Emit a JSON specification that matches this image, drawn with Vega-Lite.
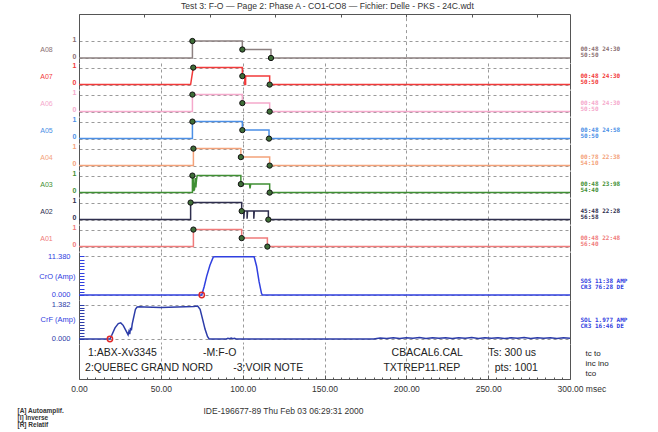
{
"$schema": "https://vega.github.io/schema/vega-lite/v6.json",
"background": "white",
"padding": {"left": 17, "top": 1, "right": 5, "bottom": 5},
"title": {"text": "Test 3: F-O — Page 2: Phase A - CO1-CO8 — Fichier: Delle - PKS - 24C.wdt", "fontSize": 8.6, "fontWeight": "normal", "color": "#333333", "anchor": "middle", "offset": 3, "font": "Liberation Sans"},
"spacing": 0,
"bounds": "flush",
"resolve": {"scale": {"x": "independent", "y": "independent"}},
"config": {"font": "Liberation Sans", "view": {"stroke": null}, "axis": {"labelFont": "Liberation Sans", "titleFont": "Liberation Sans"}},
"datasets": {
"dig": [
{"ch":"A08","i":0,"t":0,"v":0},{"ch":"A08","i":1,"t":69.3,"v":0},{"ch":"A08","i":2,"t":69.3,"v":1},{"ch":"A08","i":3,"t":99.8,"v":1},{"ch":"A08","i":4,"t":99.8,"v":0.5},{"ch":"A08","i":5,"t":117.3,"v":0.5},{"ch":"A08","i":6,"t":117.3,"v":0},{"ch":"A08","i":7,"t":300,"v":0},
{"ch":"A07","i":0,"t":0,"v":0},{"ch":"A07","i":1,"t":68.2,"v":0},{"ch":"A07","i":2,"t":69.8,"v":1},{"ch":"A07","i":3,"t":99.8,"v":1},{"ch":"A07","i":4,"t":99.8,"v":0.5},{"ch":"A07","i":5,"t":101.3,"v":0.5},{"ch":"A07","i":6,"t":101.3,"v":0},{"ch":"A07","i":7,"t":101.8,"v":0},{"ch":"A07","i":8,"t":101.8,"v":0.5},{"ch":"A07","i":9,"t":116.5,"v":0.5},{"ch":"A07","i":10,"t":116.5,"v":0},{"ch":"A07","i":11,"t":300,"v":0},
{"ch":"A06","i":0,"t":0,"v":0},{"ch":"A06","i":1,"t":69.3,"v":0},{"ch":"A06","i":2,"t":69.3,"v":1},{"ch":"A06","i":3,"t":99.8,"v":1},{"ch":"A06","i":4,"t":99.8,"v":0.5},{"ch":"A06","i":5,"t":116.5,"v":0.5},{"ch":"A06","i":6,"t":116.5,"v":0},{"ch":"A06","i":7,"t":300,"v":0},
{"ch":"A05","i":0,"t":0,"v":0},{"ch":"A05","i":1,"t":69.3,"v":0},{"ch":"A05","i":2,"t":69.3,"v":1},{"ch":"A05","i":3,"t":99.8,"v":1},{"ch":"A05","i":4,"t":99.8,"v":0.5},{"ch":"A05","i":5,"t":116.1,"v":0.5},{"ch":"A05","i":6,"t":116.1,"v":0},{"ch":"A05","i":7,"t":300,"v":0},
{"ch":"A04","i":0,"t":0,"v":0},{"ch":"A04","i":1,"t":69.9,"v":0},{"ch":"A04","i":2,"t":69.9,"v":1},{"ch":"A04","i":3,"t":98.9,"v":1},{"ch":"A04","i":4,"t":98.9,"v":0.5},{"ch":"A04","i":5,"t":116.5,"v":0.5},{"ch":"A04","i":6,"t":116.5,"v":0},{"ch":"A04","i":7,"t":300,"v":0},
{"ch":"A03","i":0,"t":0,"v":0},{"ch":"A03","i":1,"t":69.3,"v":0},{"ch":"A03","i":2,"t":69.3,"v":1},{"ch":"A03","i":3,"t":69.7,"v":0.9},{"ch":"A03","i":4,"t":70.1,"v":0.1},{"ch":"A03","i":5,"t":70.6,"v":0.2},{"ch":"A03","i":6,"t":71.0,"v":0.85},{"ch":"A03","i":7,"t":71.4,"v":0.3},{"ch":"A03","i":8,"t":71.8,"v":0.75},{"ch":"A03","i":9,"t":72.2,"v":1},{"ch":"A03","i":10,"t":98.9,"v":1},{"ch":"A03","i":11,"t":98.9,"v":0.5},{"ch":"A03","i":12,"t":104.2,"v":0.5},{"ch":"A03","i":13,"t":104.5,"v":0.25},{"ch":"A03","i":14,"t":104.9,"v":0.5},{"ch":"A03","i":15,"t":116.5,"v":0.5},{"ch":"A03","i":16,"t":116.5,"v":0},{"ch":"A03","i":17,"t":300,"v":0},
{"ch":"A02","i":0,"t":0,"v":0},{"ch":"A02","i":1,"t":68.2,"v":0},{"ch":"A02","i":2,"t":68.2,"v":1},{"ch":"A02","i":3,"t":99.4,"v":1},{"ch":"A02","i":4,"t":99.4,"v":0.5},{"ch":"A02","i":5,"t":100.7,"v":0.5},{"ch":"A02","i":6,"t":100.7,"v":0.05},{"ch":"A02","i":7,"t":101.0,"v":0.5},{"ch":"A02","i":8,"t":102.7,"v":0.5},{"ch":"A02","i":9,"t":102.7,"v":0.05},{"ch":"A02","i":10,"t":103.0,"v":0.5},{"ch":"A02","i":11,"t":106.8,"v":0.5},{"ch":"A02","i":12,"t":106.8,"v":0.05},{"ch":"A02","i":13,"t":107.1,"v":0.5},{"ch":"A02","i":14,"t":115.7,"v":0.5},{"ch":"A02","i":15,"t":115.7,"v":0},{"ch":"A02","i":16,"t":300,"v":0},
{"ch":"A01","i":0,"t":0,"v":0},{"ch":"A01","i":1,"t":69.9,"v":0},{"ch":"A01","i":2,"t":69.9,"v":1},{"ch":"A01","i":3,"t":99.4,"v":1},{"ch":"A01","i":4,"t":99.4,"v":0.5},{"ch":"A01","i":5,"t":115.1,"v":0.5},{"ch":"A01","i":6,"t":115.1,"v":0},{"ch":"A01","i":7,"t":300,"v":0}
],
"mk": [
{"ch":"A08","t":69.3,"v":1},{"ch":"A08","t":99.8,"v":0.5},{"ch":"A08","t":117.3,"v":0},
{"ch":"A07","t":69.8,"v":1},{"ch":"A07","t":99.8,"v":0.5},{"ch":"A07","t":116.5,"v":0},
{"ch":"A06","t":69.3,"v":1},{"ch":"A06","t":99.8,"v":0.5},{"ch":"A06","t":116.5,"v":0},
{"ch":"A05","t":69.3,"v":1},{"ch":"A05","t":99.8,"v":0.5},{"ch":"A05","t":116.1,"v":0},
{"ch":"A04","t":69.9,"v":1},{"ch":"A04","t":98.9,"v":0.5},{"ch":"A04","t":116.5,"v":0},
{"ch":"A03","t":69.3,"v":1},{"ch":"A03","t":98.9,"v":0.5},{"ch":"A03","t":116.5,"v":0},
{"ch":"A02","t":68.2,"v":1},{"ch":"A02","t":99.4,"v":0.5},{"ch":"A02","t":115.7,"v":0},
{"ch":"A01","t":69.9,"v":1},{"ch":"A01","t":99.4,"v":0.5},{"ch":"A01","t":115.1,"v":0}
],
"cro": [
{"i":0,"t":0,"v":0},{"i":1,"t":75,"v":0},{"i":2,"t":76.5,"v":2.5},{"i":3,"t":78,"v":5.5},{"i":4,"t":80,"v":8.8},{"i":5,"t":82,"v":11.2},{"i":6,"t":83,"v":11.3},{"i":7,"t":107,"v":11.3},{"i":8,"t":108.5,"v":8.5},{"i":9,"t":110,"v":4},{"i":10,"t":111.5,"v":0.5},{"i":11,"t":112,"v":0},{"i":12,"t":300,"v":0}
],
"crom": [{"t":75,"v":0}],
"crf": [
{"i":0,"t":0,"v":0},{"i":1,"t":18.9,"v":0},{"i":2,"t":20,"v":0.15},{"i":3,"t":22,"v":0.45},{"i":4,"t":24,"v":0.62},{"i":5,"t":25.5,"v":0.65},{"i":6,"t":27,"v":0.55},{"i":7,"t":29,"v":0.3},{"i":8,"t":30,"v":0.17},{"i":9,"t":30.5,"v":0.3},{"i":10,"t":31,"v":0.2},{"i":11,"t":31.5,"v":0.45},{"i":12,"t":32,"v":0.35},{"i":13,"t":32.5,"v":0.6},{"i":14,"t":33.5,"v":0.9},{"i":15,"t":34.5,"v":1.2},{"i":16,"t":35.5,"v":1.29},{"i":17,"t":37,"v":1.3},{"i":18,"t":40,"v":1.29},{"i":19,"t":45,"v":1.28},{"i":20,"t":50,"v":1.27},{"i":21,"t":55,"v":1.28},{"i":22,"t":60,"v":1.29},{"i":23,"t":65,"v":1.3},{"i":24,"t":70,"v":1.31},{"i":25,"t":72.5,"v":1.33},{"i":26,"t":74,"v":1.2},{"i":27,"t":75.5,"v":0.8},{"i":28,"t":77,"v":0.4},{"i":29,"t":78.5,"v":0.1},{"i":30,"t":79.5,"v":0},{"i":31,"t":90,"v":0},{"i":32,"t":91,"v":0.03},{"i":33,"t":92,"v":0.01},{"i":34,"t":93,"v":0.04},{"i":35,"t":94,"v":0.01},{"i":36,"t":95,"v":0.03},{"i":37,"t":96,"v":0},{"i":38,"t":180,"v":0},
{"i":39,"t":184,"v":0.04},{"i":40,"t":188,"v":0.02},{"i":41,"t":192,"v":0.05},{"i":42,"t":196,"v":0.02},{"i":43,"t":200,"v":0.05},{"i":44,"t":204,"v":0.03},{"i":45,"t":208,"v":0.06},{"i":46,"t":212,"v":0.02},{"i":47,"t":216,"v":0.05},{"i":48,"t":220,"v":0.03},{"i":49,"t":224,"v":0.05},{"i":50,"t":228,"v":0.02},{"i":51,"t":232,"v":0.05},{"i":52,"t":236,"v":0.03},{"i":53,"t":240,"v":0.06},{"i":54,"t":244,"v":0.02},{"i":55,"t":248,"v":0.05},{"i":56,"t":252,"v":0.03},{"i":57,"t":256,"v":0.05},{"i":58,"t":260,"v":0.02},{"i":59,"t":264,"v":0.05},{"i":60,"t":268,"v":0.03},{"i":61,"t":272,"v":0.06},{"i":62,"t":276,"v":0.02},{"i":63,"t":280,"v":0.05},{"i":64,"t":284,"v":0.03},{"i":65,"t":288,"v":0.05},{"i":66,"t":292,"v":0.02},{"i":67,"t":296,"v":0.05},{"i":68,"t":300,"v":0.03}
],
"crfm": [{"t":18.9,"v":0}],
"txtl": [
{"t":5.5,"line":1,"label":"1:ABX-Xv3345"},{"t":75.8,"line":1,"label":"-M:F-O"},{"t":3.7,"line":2,"label":"2:QUEBEC GRAND NORD"},{"t":94.2,"line":2,"label":"-3:VOIR NOTE"}
],
"txtr": [
{"t":191,"line":1,"label":"CBACAL6.CAL"},{"t":186,"line":2,"label":"TXTREP11.REP"},{"t":250,"line":1,"label":"Ts: 300 us"},{"t":254,"line":2,"label":"pts: 1001"}
]
},
"vconcat": [
{"width": 491, "height": 48.6, "resolve": {"axis": {"y": "independent"}},
 "layer": [
  {"data": {"name": "dig"}, "transform": [{"filter": "datum.ch == 'A08'"}],
   "mark": {"type": "line", "color": "#8c8080", "strokeWidth": 1.5, "clip": true},
   "encoding": {
    "x": {"field": "t", "type": "quantitative", "scale": {"domain": [0, 300], "nice": false, "zero": false},
      "axis": {"orient": "top", "values": [0,5,10,15,20,25,30,35,40,45,50,55,60,65,70,75,80,85,90,95,100,105,110,115,120,125,130,135,140,145,150,155,160,165,170,175,180,185,190,195,200,205,210,215,220,225,230,235,240,245,250,255,260,265,270,275,280,285,290,295,300], "domain": true, "domainColor": "#555555", "ticks": true, "tickSize": -3, "tickColor": "#555555", "labels": false, "grid": true, "gridDash": [3, 3], "gridColor": "#9a9a9a", "gridOpacity": {"condition": {"test": "datum.value % 50 == 0 && datum.value > 0 && datum.value < 300", "value": 1}, "value": 0}, "title": null}},
    "y": {"field": "v", "type": "quantitative", "scale": {"domain": [-0.27, 2.59], "nice": false, "zero": false},
      "axis": {"orient": "left", "values": [0, 1], "format": "d", "grid": true, "gridDash": [3, 3], "gridColor": "#9a9a9a", "ticks": false, "domain": true, "domainColor": "#555555", "labelColor": "#8b6f72", "labelFontSize": 7, "labelFontWeight": "bold", "labelPadding": 3, "labelBaseline": "alphabetic", "labelFlush": false, "title": "A08", "titleAngle": 0, "titleAlign": "center", "titleBaseline": "middle", "titleX": -33, "titleY": 35.5, "titleColor": "#8b6f72", "titleFontSize": 7, "titleFontWeight": "normal"}},
    "order": {"field": "i"}}},
  {"data": {"name": "mk"}, "transform": [{"filter": "datum.ch == 'A08'"}],
   "mark": {"type": "circle", "size": 28, "fill": "#3f6e38", "stroke": "#111111", "strokeWidth": 1, "opacity": 1},
   "encoding": {
    "x": {"field": "t", "type": "quantitative"},
    "y": {"field": "v", "type": "quantitative",
      "axis": {"orient": "right", "domain": true, "domainColor": "#555555", "ticks": false, "labels": false, "grid": false, "title": ["00:48    24:30", "50:50"], "titleAngle": 0, "titleAlign": "left", "titleBaseline": "middle", "titleX": 10, "titleY": 34, "titleFont": "DejaVu Sans Mono", "titleFontSize": 6, "titleFontWeight": "bold", "titleColor": "#8b6f72", "titleLineHeight": 6.5}}}}
 ]},
{"width": 491, "height": 26.2, "resolve": {"axis": {"y": "independent"}},
 "layer": [
  {"data": {"name": "dig"}, "transform": [{"filter": "datum.ch == 'A07'"}],
   "mark": {"type": "line", "color": "#f23a3a", "strokeWidth": 1.5, "clip": true},
   "encoding": {
    "x": {"field": "t", "type": "quantitative", "scale": {"domain": [0, 300], "nice": false, "zero": false},
      "axis": {"orient": "bottom", "values": [50, 100, 150, 200, 250], "domain": false, "ticks": false, "labels": false, "grid": true, "gridDash": [3, 3], "gridColor": "#9a9a9a", "title": null}},
    "y": {"field": "v", "type": "quantitative", "scale": {"domain": [-0.27, 1.27], "nice": false, "zero": false},
      "axis": {"orient": "left", "values": [0, 1], "format": "d", "grid": true, "gridDash": [3, 3], "gridColor": "#9a9a9a", "ticks": false, "domain": true, "domainColor": "#555555", "labelColor": "#f23a3a", "labelFontSize": 7, "labelFontWeight": "bold", "labelPadding": 3, "labelBaseline": "alphabetic", "labelFlush": false, "title": "A07", "titleAngle": 0, "titleAlign": "center", "titleBaseline": "middle", "titleX": -33, "titleY": 13.1, "titleColor": "#f23a3a", "titleFontSize": 7, "titleFontWeight": "normal"}},
    "order": {"field": "i"}}},
  {"data": {"name": "mk"}, "transform": [{"filter": "datum.ch == 'A07'"}],
   "mark": {"type": "circle", "size": 28, "fill": "#3f6e38", "stroke": "#111111", "strokeWidth": 1, "opacity": 1},
   "encoding": {
    "x": {"field": "t", "type": "quantitative"},
    "y": {"field": "v", "type": "quantitative",
      "axis": {"orient": "right", "domain": true, "domainColor": "#555555", "ticks": false, "labels": false, "grid": false, "title": ["00:48    24:30", "50:50"], "titleAngle": 0, "titleAlign": "left", "titleBaseline": "middle", "titleX": 10, "titleY": 12, "titleFont": "DejaVu Sans Mono", "titleFontSize": 6, "titleFontWeight": "bold", "titleColor": "#f23a3a", "titleLineHeight": 6.5}}}}
 ]},
{"width": 491, "height": 26.2, "resolve": {"axis": {"y": "independent"}},
 "layer": [
  {"data": {"name": "dig"}, "transform": [{"filter": "datum.ch == 'A06'"}],
   "mark": {"type": "line", "color": "#f5a9cc", "strokeWidth": 1.5, "clip": true},
   "encoding": {
    "x": {"field": "t", "type": "quantitative", "scale": {"domain": [0, 300], "nice": false, "zero": false},
      "axis": {"orient": "bottom", "values": [50, 100, 150, 200, 250], "domain": false, "ticks": false, "labels": false, "grid": true, "gridDash": [3, 3], "gridColor": "#9a9a9a", "title": null}},
    "y": {"field": "v", "type": "quantitative", "scale": {"domain": [-0.27, 1.27], "nice": false, "zero": false},
      "axis": {"orient": "left", "values": [0, 1], "format": "d", "grid": true, "gridDash": [3, 3], "gridColor": "#9a9a9a", "ticks": false, "domain": true, "domainColor": "#555555", "labelColor": "#f5a9cc", "labelFontSize": 7, "labelFontWeight": "bold", "labelPadding": 3, "labelBaseline": "alphabetic", "labelFlush": false, "title": "A06", "titleAngle": 0, "titleAlign": "center", "titleBaseline": "middle", "titleX": -33, "titleY": 13.1, "titleColor": "#f5a9cc", "titleFontSize": 7, "titleFontWeight": "normal"}},
    "order": {"field": "i"}}},
  {"data": {"name": "mk"}, "transform": [{"filter": "datum.ch == 'A06'"}],
   "mark": {"type": "circle", "size": 28, "fill": "#3f6e38", "stroke": "#111111", "strokeWidth": 1, "opacity": 1},
   "encoding": {
    "x": {"field": "t", "type": "quantitative"},
    "y": {"field": "v", "type": "quantitative",
      "axis": {"orient": "right", "domain": true, "domainColor": "#555555", "ticks": false, "labels": false, "grid": false, "title": ["00:48    24:30", "50:50"], "titleAngle": 0, "titleAlign": "left", "titleBaseline": "middle", "titleX": 10, "titleY": 12, "titleFont": "DejaVu Sans Mono", "titleFontSize": 6, "titleFontWeight": "bold", "titleColor": "#f5a9cc", "titleLineHeight": 6.5}}}}
 ]},
{"width": 491, "height": 26.2, "resolve": {"axis": {"y": "independent"}},
 "layer": [
  {"data": {"name": "dig"}, "transform": [{"filter": "datum.ch == 'A05'"}],
   "mark": {"type": "line", "color": "#4b8fe6", "strokeWidth": 1.5, "clip": true},
   "encoding": {
    "x": {"field": "t", "type": "quantitative", "scale": {"domain": [0, 300], "nice": false, "zero": false},
      "axis": {"orient": "bottom", "values": [50, 100, 150, 200, 250], "domain": false, "ticks": false, "labels": false, "grid": true, "gridDash": [3, 3], "gridColor": "#9a9a9a", "title": null}},
    "y": {"field": "v", "type": "quantitative", "scale": {"domain": [-0.27, 1.27], "nice": false, "zero": false},
      "axis": {"orient": "left", "values": [0, 1], "format": "d", "grid": true, "gridDash": [3, 3], "gridColor": "#9a9a9a", "ticks": false, "domain": true, "domainColor": "#555555", "labelColor": "#4b8fe6", "labelFontSize": 7, "labelFontWeight": "bold", "labelPadding": 3, "labelBaseline": "alphabetic", "labelFlush": false, "title": "A05", "titleAngle": 0, "titleAlign": "center", "titleBaseline": "middle", "titleX": -33, "titleY": 13.1, "titleColor": "#4b8fe6", "titleFontSize": 7, "titleFontWeight": "normal"}},
    "order": {"field": "i"}}},
  {"data": {"name": "mk"}, "transform": [{"filter": "datum.ch == 'A05'"}],
   "mark": {"type": "circle", "size": 28, "fill": "#3f6e38", "stroke": "#111111", "strokeWidth": 1, "opacity": 1},
   "encoding": {
    "x": {"field": "t", "type": "quantitative"},
    "y": {"field": "v", "type": "quantitative",
      "axis": {"orient": "right", "domain": true, "domainColor": "#555555", "ticks": false, "labels": false, "grid": false, "title": ["00:48    24:58", "50:50"], "titleAngle": 0, "titleAlign": "left", "titleBaseline": "middle", "titleX": 10, "titleY": 12, "titleFont": "DejaVu Sans Mono", "titleFontSize": 6, "titleFontWeight": "bold", "titleColor": "#4b8fe6", "titleLineHeight": 6.5}}}}
 ]},
{"width": 491, "height": 26.2, "resolve": {"axis": {"y": "independent"}},
 "layer": [
  {"data": {"name": "dig"}, "transform": [{"filter": "datum.ch == 'A04'"}],
   "mark": {"type": "line", "color": "#f4a27a", "strokeWidth": 1.5, "clip": true},
   "encoding": {
    "x": {"field": "t", "type": "quantitative", "scale": {"domain": [0, 300], "nice": false, "zero": false},
      "axis": {"orient": "bottom", "values": [50, 100, 150, 200, 250], "domain": false, "ticks": false, "labels": false, "grid": true, "gridDash": [3, 3], "gridColor": "#9a9a9a", "title": null}},
    "y": {"field": "v", "type": "quantitative", "scale": {"domain": [-0.27, 1.27], "nice": false, "zero": false},
      "axis": {"orient": "left", "values": [0, 1], "format": "d", "grid": true, "gridDash": [3, 3], "gridColor": "#9a9a9a", "ticks": false, "domain": true, "domainColor": "#555555", "labelColor": "#f4a27a", "labelFontSize": 7, "labelFontWeight": "bold", "labelPadding": 3, "labelBaseline": "alphabetic", "labelFlush": false, "title": "A04", "titleAngle": 0, "titleAlign": "center", "titleBaseline": "middle", "titleX": -33, "titleY": 13.1, "titleColor": "#f4a27a", "titleFontSize": 7, "titleFontWeight": "normal"}},
    "order": {"field": "i"}}},
  {"data": {"name": "mk"}, "transform": [{"filter": "datum.ch == 'A04'"}],
   "mark": {"type": "circle", "size": 28, "fill": "#3f6e38", "stroke": "#111111", "strokeWidth": 1, "opacity": 1},
   "encoding": {
    "x": {"field": "t", "type": "quantitative"},
    "y": {"field": "v", "type": "quantitative",
      "axis": {"orient": "right", "domain": true, "domainColor": "#555555", "ticks": false, "labels": false, "grid": false, "title": ["00:78    22:38", "54:10"], "titleAngle": 0, "titleAlign": "left", "titleBaseline": "middle", "titleX": 10, "titleY": 12, "titleFont": "DejaVu Sans Mono", "titleFontSize": 6, "titleFontWeight": "bold", "titleColor": "#f4a27a", "titleLineHeight": 6.5}}}}
 ]},
{"width": 491, "height": 26.2, "resolve": {"axis": {"y": "independent"}},
 "layer": [
  {"data": {"name": "dig"}, "transform": [{"filter": "datum.ch == 'A03'"}],
   "mark": {"type": "line", "color": "#3f8f33", "strokeWidth": 1.5, "clip": true},
   "encoding": {
    "x": {"field": "t", "type": "quantitative", "scale": {"domain": [0, 300], "nice": false, "zero": false},
      "axis": {"orient": "bottom", "values": [50, 100, 150, 200, 250], "domain": false, "ticks": false, "labels": false, "grid": true, "gridDash": [3, 3], "gridColor": "#9a9a9a", "title": null}},
    "y": {"field": "v", "type": "quantitative", "scale": {"domain": [-0.27, 1.27], "nice": false, "zero": false},
      "axis": {"orient": "left", "values": [0, 1], "format": "d", "grid": true, "gridDash": [3, 3], "gridColor": "#9a9a9a", "ticks": false, "domain": true, "domainColor": "#555555", "labelColor": "#3f8f33", "labelFontSize": 7, "labelFontWeight": "bold", "labelPadding": 3, "labelBaseline": "alphabetic", "labelFlush": false, "title": "A03", "titleAngle": 0, "titleAlign": "center", "titleBaseline": "middle", "titleX": -33, "titleY": 13.1, "titleColor": "#3f8f33", "titleFontSize": 7, "titleFontWeight": "normal"}},
    "order": {"field": "i"}}},
  {"data": {"name": "mk"}, "transform": [{"filter": "datum.ch == 'A03'"}],
   "mark": {"type": "circle", "size": 28, "fill": "#3f6e38", "stroke": "#111111", "strokeWidth": 1, "opacity": 1},
   "encoding": {
    "x": {"field": "t", "type": "quantitative"},
    "y": {"field": "v", "type": "quantitative",
      "axis": {"orient": "right", "domain": true, "domainColor": "#555555", "ticks": false, "labels": false, "grid": false, "title": ["00:48    23:98", "54:40"], "titleAngle": 0, "titleAlign": "left", "titleBaseline": "middle", "titleX": 10, "titleY": 12, "titleFont": "DejaVu Sans Mono", "titleFontSize": 6, "titleFontWeight": "bold", "titleColor": "#3f8f33", "titleLineHeight": 6.5}}}}
 ]},
{"width": 491, "height": 26.2, "resolve": {"axis": {"y": "independent"}},
 "layer": [
  {"data": {"name": "dig"}, "transform": [{"filter": "datum.ch == 'A02'"}],
   "mark": {"type": "line", "color": "#2e2e4e", "strokeWidth": 1.5, "clip": true},
   "encoding": {
    "x": {"field": "t", "type": "quantitative", "scale": {"domain": [0, 300], "nice": false, "zero": false},
      "axis": {"orient": "bottom", "values": [50, 100, 150, 200, 250], "domain": false, "ticks": false, "labels": false, "grid": true, "gridDash": [3, 3], "gridColor": "#9a9a9a", "title": null}},
    "y": {"field": "v", "type": "quantitative", "scale": {"domain": [-0.27, 1.27], "nice": false, "zero": false},
      "axis": {"orient": "left", "values": [0, 1], "format": "d", "grid": true, "gridDash": [3, 3], "gridColor": "#9a9a9a", "ticks": false, "domain": true, "domainColor": "#555555", "labelColor": "#2e2e4e", "labelFontSize": 7, "labelFontWeight": "bold", "labelPadding": 3, "labelBaseline": "alphabetic", "labelFlush": false, "title": "A02", "titleAngle": 0, "titleAlign": "center", "titleBaseline": "middle", "titleX": -33, "titleY": 13.1, "titleColor": "#2e2e4e", "titleFontSize": 7, "titleFontWeight": "normal"}},
    "order": {"field": "i"}}},
  {"data": {"name": "mk"}, "transform": [{"filter": "datum.ch == 'A02'"}],
   "mark": {"type": "circle", "size": 28, "fill": "#3f6e38", "stroke": "#111111", "strokeWidth": 1, "opacity": 1},
   "encoding": {
    "x": {"field": "t", "type": "quantitative"},
    "y": {"field": "v", "type": "quantitative",
      "axis": {"orient": "right", "domain": true, "domainColor": "#555555", "ticks": false, "labels": false, "grid": false, "title": ["45:48    22:28", "56:58"], "titleAngle": 0, "titleAlign": "left", "titleBaseline": "middle", "titleX": 10, "titleY": 12, "titleFont": "DejaVu Sans Mono", "titleFontSize": 6, "titleFontWeight": "bold", "titleColor": "#2e2e4e", "titleLineHeight": 6.5}}}}
 ]},
{"width": 491, "height": 26.2, "resolve": {"axis": {"y": "independent"}},
 "layer": [
  {"data": {"name": "dig"}, "transform": [{"filter": "datum.ch == 'A01'"}],
   "mark": {"type": "line", "color": "#f07b7b", "strokeWidth": 1.5, "clip": true},
   "encoding": {
    "x": {"field": "t", "type": "quantitative", "scale": {"domain": [0, 300], "nice": false, "zero": false},
      "axis": {"orient": "bottom", "values": [50, 100, 150, 200, 250], "domain": false, "ticks": false, "labels": false, "grid": true, "gridDash": [3, 3], "gridColor": "#9a9a9a", "title": null}},
    "y": {"field": "v", "type": "quantitative", "scale": {"domain": [-0.27, 1.27], "nice": false, "zero": false},
      "axis": {"orient": "left", "values": [0, 1], "format": "d", "grid": true, "gridDash": [3, 3], "gridColor": "#9a9a9a", "ticks": false, "domain": true, "domainColor": "#555555", "labelColor": "#f07b7b", "labelFontSize": 7, "labelFontWeight": "bold", "labelPadding": 3, "labelBaseline": "alphabetic", "labelFlush": false, "title": "A01", "titleAngle": 0, "titleAlign": "center", "titleBaseline": "middle", "titleX": -33, "titleY": 13.1, "titleColor": "#f07b7b", "titleFontSize": 7, "titleFontWeight": "normal"}},
    "order": {"field": "i"}}},
  {"data": {"name": "mk"}, "transform": [{"filter": "datum.ch == 'A01'"}],
   "mark": {"type": "circle", "size": 28, "fill": "#3f6e38", "stroke": "#111111", "strokeWidth": 1, "opacity": 1},
   "encoding": {
    "x": {"field": "t", "type": "quantitative"},
    "y": {"field": "v", "type": "quantitative",
      "axis": {"orient": "right", "domain": true, "domainColor": "#555555", "ticks": false, "labels": false, "grid": false, "title": ["00:48    22:48", "56:40"], "titleAngle": 0, "titleAlign": "left", "titleBaseline": "middle", "titleX": 10, "titleY": 12, "titleFont": "DejaVu Sans Mono", "titleFontSize": 6, "titleFontWeight": "bold", "titleColor": "#f07b7b", "titleLineHeight": 6.5}}}}
 ]},
{"width": 491, "height": 48, "resolve": {"axis": {"y": "independent"}},
 "layer": [
  {"data": {"name": "cro"},
   "mark": {"type": "line", "color": "#3040e0", "strokeWidth": 1.5, "clip": true},
   "encoding": {
    "x": {"field": "t", "type": "quantitative", "scale": {"domain": [0, 300], "nice": false, "zero": false},
      "axis": {"orient": "bottom", "values": [50, 100, 150, 200, 250], "domain": false, "ticks": false, "labels": false, "grid": true, "gridDash": [3, 3], "gridColor": "#9a9a9a", "title": null}},
    "y": {"field": "v", "type": "quantitative", "scale": {"domain": [-1.478, 12.71], "nice": false, "zero": false},
      "axis": {"orient": "left", "values": [0, 0.948, 1.897, 2.845, 3.793, 4.742, 5.69, 6.638, 7.587, 8.535, 9.483, 10.432, 11.38], "domain": true, "domainColor": "#555555", "ticks": true, "tickSize": -5, "tickColor": "#3040e0", "labelExpr": "datum.value == 0 ? '0.000' : (datum.value == 11.38 ? '11.380' : '')", "labelColor": "#3040e0", "labelFontSize": 7.5, "labelPadding": 14, "labelFlush": false, "labelOverlap": false, "grid": true, "gridDash": [3, 3], "gridColor": "#9a9a9a", "gridOpacity": {"condition": {"test": "datum.value == 11.38 || datum.value == 0", "value": 1}, "value": 0}, "title": "CrO (Amp)", "titleAngle": 0, "titleAlign": "right", "titleBaseline": "middle", "titleX": -4, "titleY": 24, "titleColor": "#3040e0", "titleFontSize": 7.5, "titleFontWeight": "normal"}},
    "order": {"field": "i"}}},
  {"data": {"name": "crom"},
   "mark": {"type": "point", "shape": "circle", "filled": false, "color": "#e02828", "size": 28, "strokeWidth": 1.5, "opacity": 1},
   "encoding": {
    "x": {"field": "t", "type": "quantitative"},
    "y": {"field": "v", "type": "quantitative",
      "axis": {"orient": "right", "domain": true, "domainColor": "#555555", "ticks": false, "labels": false, "grid": false, "title": ["SOS    11:38 AMP", "CR3    76:28 DE"], "titleAngle": 0, "titleAlign": "left", "titleBaseline": "middle", "titleX": 10, "titleY": 28, "titleFont": "DejaVu Sans Mono", "titleFontSize": 6, "titleFontWeight": "bold", "titleColor": "#3040e0", "titleLineHeight": 6.5}}}}
 ]},
{"width": 491, "height": 44, "resolve": {"axis": {"y": "independent"}},
 "layer": [
  {"data": {"name": "crf"},
   "mark": {"type": "line", "color": "#2c3ca8", "strokeWidth": 1.5, "clip": true},
   "encoding": {
    "x": {"field": "t", "type": "quantitative", "scale": {"domain": [0, 300], "nice": false, "zero": false},
      "axis": {"orient": "bottom", "values": [50, 100, 150, 200, 250], "domain": false, "ticks": false, "labels": false, "grid": true, "gridDash": [3, 3], "gridColor": "#9a9a9a", "title": null}},
    "y": {"field": "v", "type": "quantitative", "scale": {"domain": [-0.2015, 1.571], "nice": false, "zero": false},
      "axis": {"orient": "left", "values": [0, 0.1152, 0.2303, 0.3455, 0.4607, 0.5758, 0.691, 0.8062, 0.9213, 1.0365, 1.1517, 1.2668, 1.382], "domain": true, "domainColor": "#555555", "ticks": true, "tickSize": -5, "tickColor": "#2c3ca8", "labelExpr": "datum.value == 0 ? '0.000' : (datum.value == 1.382 ? '1.382' : '')", "labelColor": "#2c3ca8", "labelFontSize": 7.5, "labelPadding": 14, "labelFlush": false, "labelOverlap": false, "grid": true, "gridDash": [3, 3], "gridColor": "#9a9a9a", "gridOpacity": {"condition": {"test": "datum.value == 1.382 || datum.value == 0", "value": 1}, "value": 0}, "title": "CrF (Amp)", "titleAngle": 0, "titleAlign": "right", "titleBaseline": "middle", "titleX": -4, "titleY": 19, "titleColor": "#3040e0", "titleFontSize": 7.5, "titleFontWeight": "normal"}},
    "order": {"field": "i"}}},
  {"data": {"name": "crfm"},
   "mark": {"type": "point", "shape": "circle", "filled": false, "color": "#e02828", "size": 28, "strokeWidth": 1.5, "opacity": 1},
   "encoding": {
    "x": {"field": "t", "type": "quantitative"},
    "y": {"field": "v", "type": "quantitative",
      "axis": {"orient": "right", "domain": true, "domainColor": "#555555", "ticks": false, "labels": false, "grid": false, "title": ["SOL    1.977 AMP", "CR3    16:46 DE"], "titleAngle": 0, "titleAlign": "left", "titleBaseline": "middle", "titleX": 10, "titleY": 19, "titleFont": "DejaVu Sans Mono", "titleFontSize": 6, "titleFontWeight": "bold", "titleColor": "#3040e0", "titleLineHeight": 6.5}}}}
 ]},
{"width": 491, "height": 35, "resolve": {"axis": {"y": "independent", "x": "independent"}},
 "layer": [
  {"data": {"name": "txtl"},
   "mark": {"type": "text", "align": "left", "baseline": "middle", "fontSize": 10.5, "color": "#222222", "font": "Liberation Sans"},
   "encoding": {
    "x": {"field": "t", "type": "quantitative", "scale": {"domain": [0, 300], "nice": false, "zero": false},
      "axis": {"orient": "bottom", "values": [0, 50, 100, 150, 200, 250, 300], "domain": true, "domainColor": "#555555", "ticks": true, "tickSize": -4, "tickColor": "#555555", "labels": true, "labelExpr": "datum.value == 300 ? '300.00 msec' : format(datum.value, '.2f')", "labelFlush": false, "labelOverlap": false, "labelFontSize": 8.5, "labelColor": "#333333", "labelPadding": 9, "labelAlign": {"condition": {"test": "datum.value == 300", "value": "left"}, "value": "center"}, "labelOffset": {"condition": {"test": "datum.value == 300", "value": -13}, "value": 0}, "grid": true, "gridDash": [3, 3], "gridColor": "#9a9a9a", "gridOpacity": {"condition": {"test": "datum.value > 0 && datum.value < 300", "value": 1}, "value": 0}, "title": "IDE-196677-89   Thu Feb 03 06:29:31 2000", "titleFontSize": 8.5, "titleFontWeight": "normal", "titleColor": "#333333", "titlePadding": 14, "titleX": 204, "titleAlign": "center"}},
    "y": {"field": "line", "type": "quantitative", "scale": {"domain": [0.388, 2.768], "reverse": true, "nice": false, "zero": false},
      "axis": {"orient": "left", "domain": true, "domainColor": "#555555", "ticks": false, "labels": false, "grid": false, "title": ["[A] Autoamplif.", "[I] Inverse", "[R] Relatif"], "titleAngle": 0, "titleAlign": "left", "titleBaseline": "top", "titleX": -62, "titleY": 63, "titleFontSize": 6.5, "titleFontWeight": "bold", "titleColor": "#333333", "titleLineHeight": 7}},
    "text": {"field": "label"}}},
  {"data": {"name": "txtr"},
   "mark": {"type": "text", "align": "left", "baseline": "middle", "fontSize": 10.5, "color": "#222222", "font": "Liberation Sans"},
   "encoding": {
    "x": {"field": "t", "type": "quantitative",
      "axis": {"orient": "bottom", "values": [5,10,15,20,25,30,35,40,45,55,60,65,70,75,80,85,90,95,105,110,115,120,125,130,135,140,145,155,160,165,170,175,180,185,190,195,205,210,215,220,225,230,235,240,245,255,260,265,270,275,280,285,290,295], "domain": false, "ticks": true, "tickSize": -2, "tickColor": "#555555", "labels": false, "grid": false, "title": null}},
    "y": {"field": "line", "type": "quantitative",
      "axis": {"orient": "right", "domain": true, "domainColor": "#555555", "ticks": false, "labels": false, "grid": false, "title": ["tc  to", "inc ino", "tco"], "titleAngle": 0, "titleAlign": "left", "titleBaseline": "top", "titleX": 15, "titleY": 5, "titleFontSize": 8, "titleFontWeight": "normal", "titleColor": "#222222", "titleLineHeight": 10}},
    "text": {"field": "label"}}}
 ]}
]
}
